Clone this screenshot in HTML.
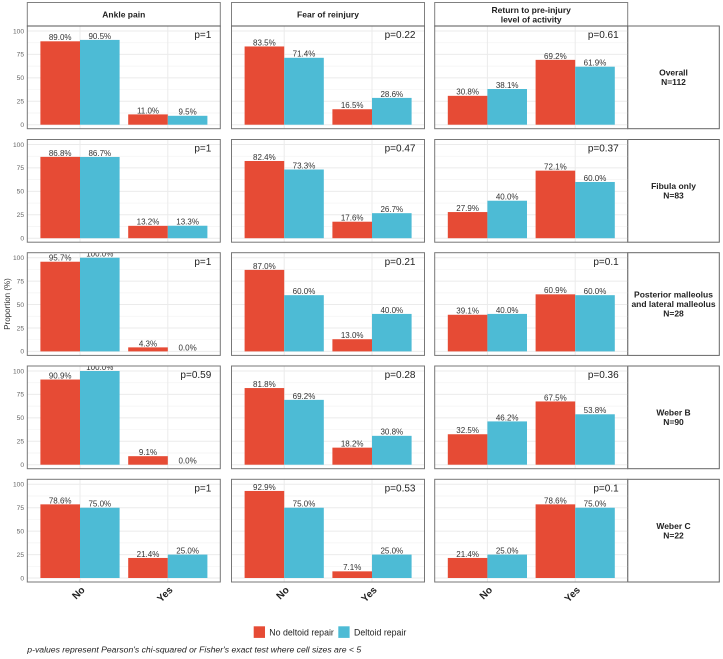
<!DOCTYPE html>
<html lang="en">
<head>
<meta charset="utf-8">
<title>Outcomes by deltoid repair</title>
<style>
html,body{margin:0;padding:0;background:#fff;width:723px;height:659px;overflow:hidden}
svg{display:block;font-family:"Liberation Sans",Arial,sans-serif}
</style>
</head>
<body>
<svg id="chart" width="723" height="659" viewBox="0 0 723 659" xmlns="http://www.w3.org/2000/svg"></svg>
<script>
const outcomes = [["Ankle pain"], ["Fear of reinjury"], ["Return to pre-injury", "level of activity"]];
const subgroups = [["Overall", "N=112"], ["Fibula only", "N=83"], ["Posterior malleolus", "and lateral malleolus", "N=28"], ["Weber B", "N=90"], ["Weber C", "N=22"]];
const categories = ["No", "Yes"];
const seriesNames = ["No deltoid repair", "Deltoid repair"];
const yTicks = [0, 25, 50, 75, 100];
const yMinorTicks = [12.5, 37.5, 62.5, 87.5];

const overallAnkle = [[89.0, 90.5], [11.0, 9.5]];
const overallFear = [[83.5, 71.4], [16.5, 28.6]];
const overallReturn = [[30.8, 38.1], [69.2, 61.9]];
const fibulaAnkle = [[86.8, 86.7], [13.2, 13.3]];
const fibulaFear = [[82.4, 73.3], [17.6, 26.7]];
const fibulaReturn = [[27.9, 40.0], [72.1, 60.0]];
const posteriorAnkle = [[95.7, 100.0], [4.3, 0.0]];
const posteriorFear = [[87.0, 60.0], [13.0, 40.0]];
const posteriorReturn = [[39.1, 40.0], [60.9, 60.0]];
const weberBAnkle = [[90.9, 100.0], [9.1, 0.0]];
const weberBFear = [[81.8, 69.2], [18.2, 30.8]];
const weberBReturn = [[32.5, 46.2], [67.5, 53.8]];
const weberCAnkle = [[78.6, 75.0], [21.4, 25.0]];
const weberCFear = [[92.9, 75.0], [7.1, 25.0]];
const weberCReturn = [[21.4, 25.0], [78.6, 75.0]];
const pValues = [
  ["p=1", "p=0.22", "p=0.61"],
  ["p=1", "p=0.47", "p=0.37"],
  ["p=1", "p=0.21", "p=0.1"],
  ["p=0.59", "p=0.28", "p=0.36"],
  ["p=1", "p=0.53", "p=0.1"]
];
const panelValues = [
  [overallAnkle, overallFear, overallReturn],
  [fibulaAnkle, fibulaFear, fibulaReturn],
  [posteriorAnkle, posteriorFear, posteriorReturn],
  [weberBAnkle, weberBFear, weberBReturn],
  [weberCAnkle, weberCFear, weberCReturn]
];

const svg = document.getElementById('chart');
const NS = 'http://www.w3.org/2000/svg';
const RED = '#E64B35', BLUE = '#4DBBD5';
const colLeft = [27.3, 231.5, 434.7];
const panelW = 193;
const rowTop = [26, 139.5, 252.7, 366, 479.3];
const panelH = 102.7;
const stripRight = 719.3;
const headerTop = 2.5;

function xCat(col, cat) { return colLeft[col] + 52.7 + cat * 87.8; }
const barW = 39.6;
function yVal(row, v) { return rowTop[row] + 98.7 - v * 0.937; }

function make(tag, attrs, parent, text) {
  const e = document.createElementNS(NS, tag);
  for (const k in attrs) e.setAttribute(k, attrs[k]);
  if (text !== undefined) e.textContent = text;
  (parent || svg).appendChild(e);
  return e;
}

const defs = make('defs', {});

outcomes.forEach(function (lines, c) {
  const rect = make('rect', {x: colLeft[c], y: headerTop, width: panelW, height: rowTop[0] - headerTop, fill: '#fff', stroke: '#808080', 'stroke-width': 1});
  
  
  const cx = colLeft[c] + panelW / 2;
  const firstY = lines.length === 1 ? 17.4 : 13;
  lines.forEach(function (line, i) {
    const t = make('text', {x: cx, y: firstY + i * 9.4, 'text-anchor': 'middle', 'font-size': 8.5, 'font-weight': 'bold', fill: '#222'}, svg, line);
    
    
  });
});

subgroups.forEach(function (lines, r) {
  const top = rowTop[r];
  const stripX = colLeft[2] + panelW;
  const strip = make('rect', {x: stripX, y: top, width: stripRight - stripX, height: panelH, fill: '#fff', stroke: '#666', 'stroke-width': 1});
  
  
  const mid = top + panelH / 2;
  const start = mid + 3 - (lines.length - 1) * 4.7;
  lines.forEach(function (line, i) {
    const t = make('text', {x: (stripX + stripRight) / 2, y: start + i * 9.4, 'text-anchor': 'middle', 'font-size': 8.5, 'font-weight': 'bold', fill: '#222'}, svg, line);
    
    
  });

  yTicks.forEach(function (tick) {
    const t = make('text', {x: 24, y: yVal(r, tick) + 2.3, 'text-anchor': 'end', 'font-size': 6.6, fill: '#666'}, svg, String(tick));
    
    
  });

  outcomes.forEach(function (_, c) {
    const left = colLeft[c];
    const clipId = 'clip-' + r + '-' + c;
    const clip = make('clipPath', {id: clipId}, defs);
    make('rect', {x: left, y: top, width: panelW, height: panelH}, clip);
    const g = make('g', {'clip-path': 'url(#' + clipId + ')'});
    
    

    yMinorTicks.forEach(function (tick) {
      const l = make('line', {x1: left, x2: left + panelW, y1: yVal(r, tick), y2: yVal(r, tick), stroke: '#f3f3f3', 'stroke-width': 0.7}, g);
      
      
    });
    yTicks.forEach(function (tick) {
      const l = make('line', {x1: left, x2: left + panelW, y1: yVal(r, tick), y2: yVal(r, tick), stroke: '#ebebeb', 'stroke-width': 1}, g);
      
      
    });
    categories.forEach(function (_, cat) {
      const l = make('line', {x1: xCat(c, cat), x2: xCat(c, cat), y1: top, y2: top + panelH, stroke: '#ebebeb', 'stroke-width': 1}, g);
      
      
    });

    const vals = panelValues[r][c];
    categories.forEach(function (_, cat) {
      vals[cat].forEach(function (v, s) {
        const x = xCat(c, cat) - barW + s * barW;
        const yTop = yVal(r, v);
        const b = make('rect', {x: x, y: yTop, width: barW, height: Math.max(0, yVal(r, 0) - yTop), fill: s === 0 ? RED : BLUE}, g);
        
        
        const t = make('text', {x: x + barW / 2, y: yTop - 1.1, 'text-anchor': 'middle', 'font-size': 8, fill: '#333'}, g, v.toFixed(1) + '%');
        
        
      });
    });

    const p = make('text', {x: left + panelW - 9, y: top + 12.2, 'text-anchor': 'end', 'font-size': 10, fill: '#222'}, g, pValues[r][c]);
    
    

    const border = make('rect', {x: left, y: top, width: panelW, height: panelH, fill: 'none', stroke: '#777', 'stroke-width': 1});
    
    
  });
});

outcomes.forEach(function (_, c) {
  const l = make('line', {x1: colLeft[c], x2: colLeft[c] + panelW, y1: rowTop[0], y2: rowTop[0], stroke: '#555', 'stroke-width': 1});
  
  
  categories.forEach(function (cat, i) {
    const px = xCat(c, i) + 5.5;
    const py = 590.5;
    const t = make('text', {x: px, y: py, 'text-anchor': 'end', 'font-size': 10, 'font-weight': 'bold', fill: '#222', transform: 'rotate(-45 ' + px + ' ' + py + ')'}, svg, cat);
    
    
  });
});

const yTitle = make('text', {x: 10, y: 304, 'text-anchor': 'middle', 'font-size': 8, fill: '#333', transform: 'rotate(-90 10 304)'}, svg, 'Proportion (%)');



const legendBoxX = [253.7, 338.3];
const legendTextX = [269.3, 354];
seriesNames.forEach(function (name, s) {
  const box = make('rect', {x: legendBoxX[s], y: 626.3, width: 11.3, height: 11.6, fill: s === 0 ? RED : BLUE});
  
  
  const t = make('text', {x: legendTextX[s], y: 635.4, 'font-size': 8.8, fill: '#222'}, svg, name);
  
  
});

const note = make('text', {x: 27.3, y: 652.6, 'font-size': 8.64, 'font-style': 'italic', fill: '#222'}, svg, "p-values represent Pearson's chi-squared or Fisher's exact test where cell sizes are < 5");


</script>
</body>
</html>
